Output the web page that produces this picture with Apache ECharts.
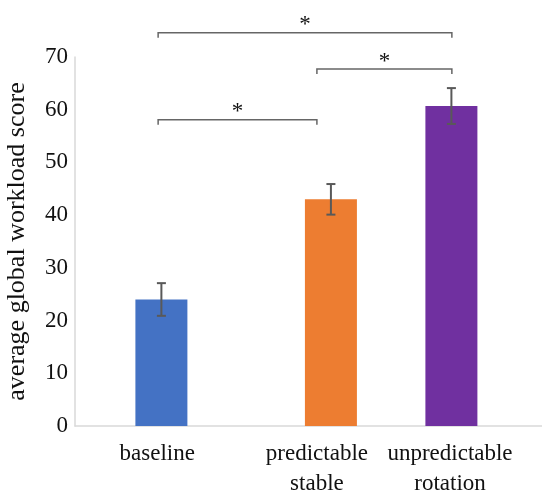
<!DOCTYPE html>
<html>
<head>
<meta charset="utf-8">
<script src="https://cdn.jsdelivr.net/npm/echarts@6/dist/echarts.min.js"></script>
<style>
html,body{margin:0;padding:0;background:#fff;}
#chart{width:542px;height:490px;}
</style>
</head>
<body>
<div id="chart"></div>
<script>
// 数据
var categories = ['baseline', 'predictable\nstable', 'unpredictable\nrotation'];
var means = [24, 43, 60.7];
var errors = [3.1, 2.9, 3.4];
var colors = ['#4472C4', '#ED7D31', '#7030A0'];
var barPos = [18.5, 54.8, 80.6];
var labelPos = [17.6, 51.8, 80.3];
// 显著性括号 [from, to, level]
var bracketFrom = [17.8, 51.8, 17.8];
var bracketTo = [80.7, 80.7, 51.8];
var bracketLevel = [74.6, 67.7, 58.1];
var bracketText = ['*', '*', '*'];

var chart = echarts.init(document.getElementById('chart'));

var barData = [];
var errData = [];
for (var i = 0; i < means.length; i++) {
	barData.push({ value: [barPos[i], means[i]], itemStyle: { color: colors[i] } });
	errData.push([barPos[i], means[i] - errors[i], means[i] + errors[i]]);
}
var brData = [];
for (var k = 0; k < bracketFrom.length; k++) {
	brData.push([bracketFrom[k], bracketTo[k], bracketLevel[k], bracketText[k]]);
}

chart.setOption({
	animation: false,
	grid: { left: 75, right: 0, top: 57, bottom: 64, outerBoundsMode: 'none' },
	xAxis: {
		type: 'value',
		min: 0,
		max: 100,
		splitLine: { show: false },
		axisLine: { show: true, lineStyle: { color: '#d9d9d9', width: 1.5 } },
		axisTick: { show: false },
		axisLabel: {
			customValues: labelPos,
			margin: 13,
			fontFamily: 'Liberation Serif',
			fontSize: 23,
			lineHeight: 30,
			color: '#111',
			verticalAlign: 'top',
			formatter: function (v) {
				var idx = labelPos.indexOf(v);
				return idx >= 0 ? categories[idx] : '';
			}
		}
	},
	yAxis: {
		type: 'value',
		min: 0,
		max: 70,
		interval: 10,
		name: 'average global workload score',
		nameLocation: 'middle',
		nameGap: 45,
		nameTextStyle: { fontFamily: 'Liberation Serif', fontSize: 26, color: '#111' },
		splitLine: { show: false },
		axisLine: { show: true, lineStyle: { color: '#d9d9d9', width: 1.5 } },
		axisTick: { show: false },
		axisLabel: { margin: 7, fontFamily: 'Liberation Serif', fontSize: 23, color: '#111' }
	},
	series: [
		{
			type: 'bar',
			barWidth: 52,
			data: barData
		},
		{
			type: 'custom',
			data: errData,
			z: 5,
			renderItem: function (params, api) {
				var lo = api.coord([api.value(0), api.value(1)]);
				var hi = api.coord([api.value(0), api.value(2)]);
				var w = 4.5;
				var st = { stroke: '#595959', lineWidth: 2 };
				return {
					type: 'group',
					children: [
						{ type: 'line', shape: { x1: lo[0], y1: lo[1], x2: hi[0], y2: hi[1] }, style: st },
						{ type: 'line', shape: { x1: hi[0] - w, y1: hi[1], x2: hi[0] + w, y2: hi[1] }, style: st },
						{ type: 'line', shape: { x1: lo[0] - w, y1: lo[1], x2: lo[0] + w, y2: lo[1] }, style: st }
					]
				};
			}
		},
		{
			type: 'custom',
			data: brData,
			clip: false,
			renderItem: function (params, api) {
				var a = api.coord([api.value(0), api.value(2)]);
				var b = api.coord([api.value(1), api.value(2)]);
				var d = 5;
				return {
					type: 'group',
					children: [
						{
							type: 'polyline',
							shape: { points: [[a[0], a[1] + d], [a[0], a[1]], [b[0], b[1]], [b[0], b[1] + d]] },
							style: { stroke: '#666', lineWidth: 1.5, fill: null }
						},
						{
							type: 'text',
							x: (a[0] + b[0]) / 2,
							y: a[1] + 4,
							style: {
								text: api.value(3),
								fontFamily: 'Liberation Serif',
								fontSize: 23,
								fill: '#111',
								align: 'center',
								verticalAlign: 'bottom'
							}
						}
					]
				};
			}
		}
	]
});
</script>
</body>
</html>
